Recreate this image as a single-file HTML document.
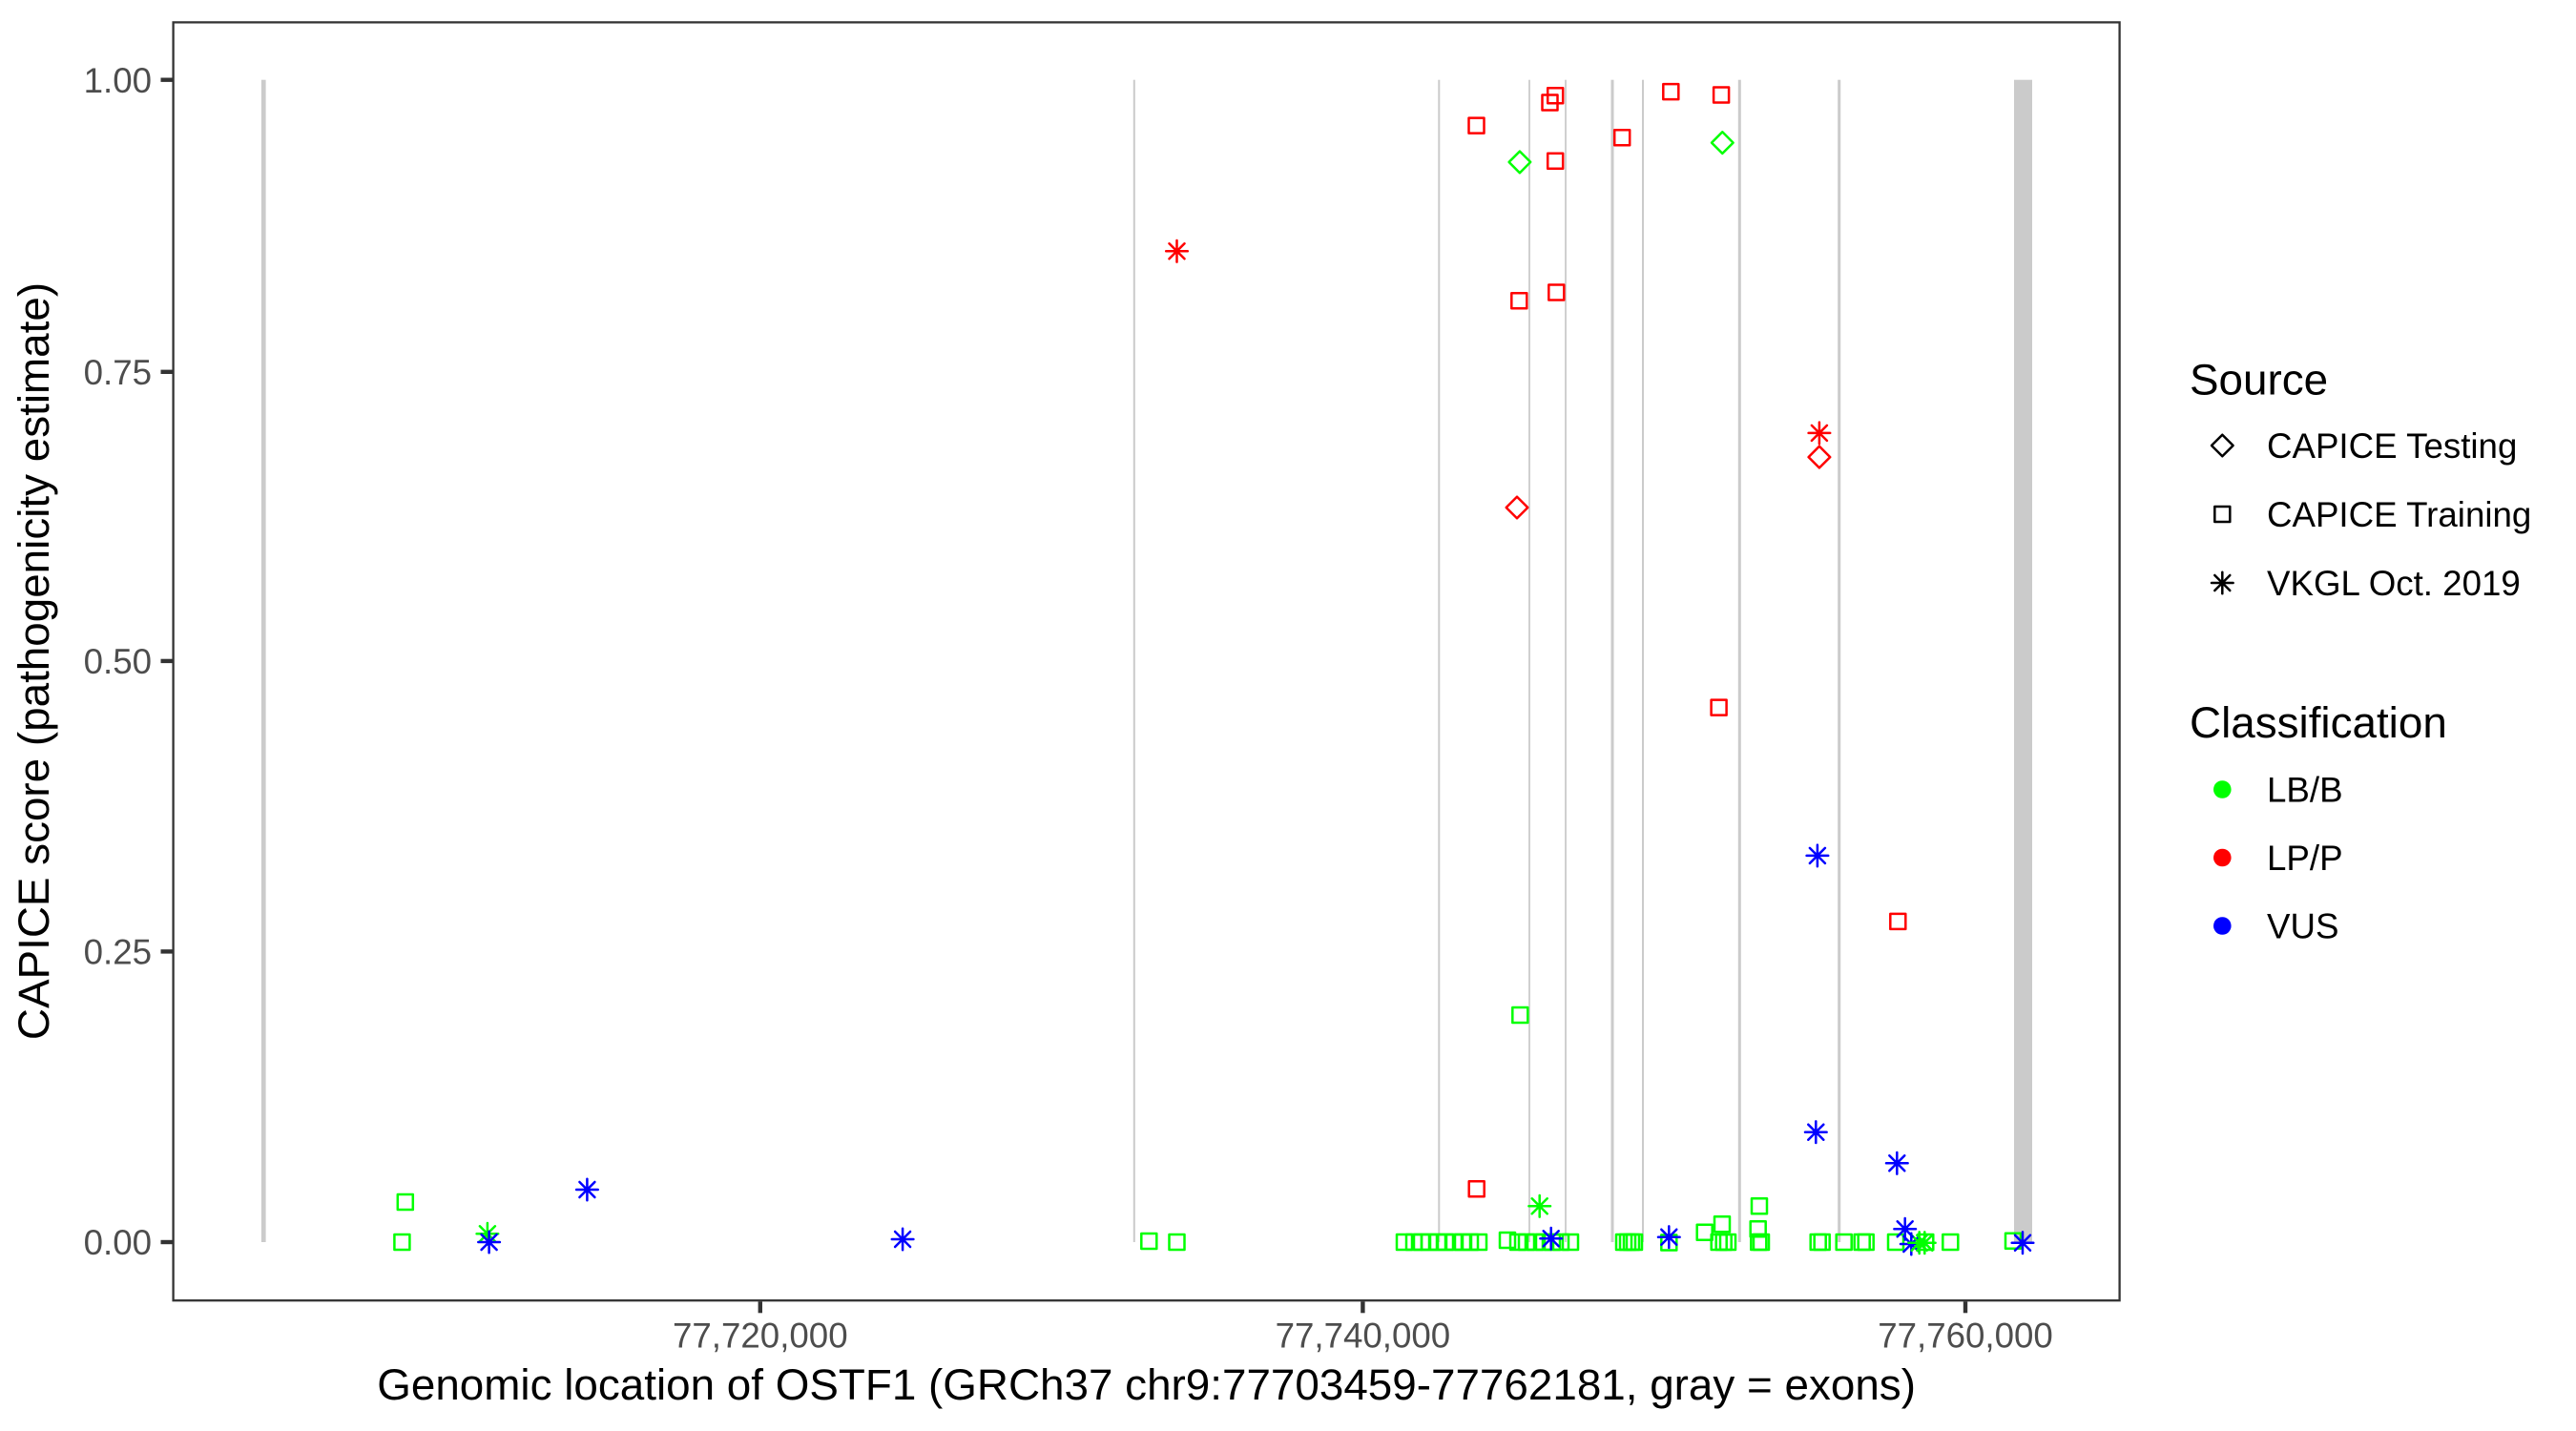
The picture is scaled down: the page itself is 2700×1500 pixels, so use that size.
<!DOCTYPE html>
<html><head><meta charset="utf-8"><style>
html,body{margin:0;padding:0;background:#fff;}
svg{display:block;}
text{font-family:"Liberation Sans",Arial,sans-serif;}
</style></head><body>
<svg width="2700" height="1500" viewBox="0 0 2700 1500" xmlns="http://www.w3.org/2000/svg">
<defs>
<rect id="sq" x="-8" y="-8" width="16" height="16" fill="none"/>
<path id="dm" d="M0,-11.3L11.3,0L0,11.3L-11.3,0Z" fill="none"/>
<path id="st" d="M-11.3,0H11.3M0,-11.3V11.3M-8,-8L8,8M-8,8L8,-8" fill="none"/>
</defs>
<rect width="2700" height="1500" fill="#fff"/>
<!-- exons -->
<g fill="#cbcbcb">
<rect x="273.9" y="83.7" width="4.7" height="1218.3"/>
<rect x="1187.8" y="83.7" width="2" height="1218.3"/>
<rect x="1507.3" y="83.7" width="2" height="1218.3"/>
<rect x="1602.1" y="83.7" width="1.8" height="1218.3"/>
<rect x="1640.1" y="83.7" width="1.8" height="1218.3"/>
<rect x="1688.5" y="83.7" width="3" height="1218.3"/>
<rect x="1721" y="83.7" width="2" height="1218.3"/>
<rect x="1821.8" y="83.7" width="3" height="1218.3"/>
<rect x="1926.2" y="83.7" width="3" height="1218.3"/>
<rect x="2111" y="83.7" width="19" height="1218.3"/>
</g>
<!-- points -->
<g stroke-width="2.5" stroke-linejoin="round" stroke-linecap="round">
<g stroke="#00ff00">
<use href="#sq" x="424.8" y="1260"/><use href="#sq" x="421.4" y="1302"/>
<use href="#sq" x="1204.3" y="1301"/><use href="#sq" x="1233.5" y="1302"/>
<use href="#sq" x="1593.3" y="1064"/>
<use href="#sq" x="1472" y="1302"/><use href="#sq" x="1482" y="1302"/><use href="#sq" x="1490" y="1302"/><use href="#sq" x="1498" y="1302"/><use href="#sq" x="1507" y="1302"/><use href="#sq" x="1515" y="1302"/><use href="#sq" x="1524" y="1302"/><use href="#sq" x="1533" y="1302"/><use href="#sq" x="1541" y="1302"/><use href="#sq" x="1550" y="1302"/>
<use href="#sq" x="1580" y="1300"/><use href="#sq" x="1591" y="1302"/><use href="#sq" x="1600" y="1302"/><use href="#sq" x="1609" y="1302"/><use href="#sq" x="1618" y="1302"/><use href="#sq" x="1627" y="1302"/><use href="#sq" x="1636" y="1302"/><use href="#sq" x="1646" y="1302"/>
<use href="#sq" x="1702" y="1302"/><use href="#sq" x="1706" y="1302"/><use href="#sq" x="1710" y="1302"/><use href="#sq" x="1713" y="1302"/>
<use href="#sq" x="1749.3" y="1302.5"/>
<use href="#sq" x="1786.7" y="1291.7"/><use href="#sq" x="1805" y="1283.3"/><use href="#sq" x="1801.7" y="1302"/><use href="#sq" x="1806.7" y="1302"/><use href="#sq" x="1811" y="1302"/>
<use href="#sq" x="1844" y="1264.3"/><use href="#sq" x="1842.7" y="1288.3"/><use href="#sq" x="1843.3" y="1302"/><use href="#sq" x="1846" y="1302"/>
<use href="#sq" x="1905.7" y="1302"/><use href="#sq" x="1909.7" y="1302"/><use href="#sq" x="1932.7" y="1302"/><use href="#sq" x="1951.7" y="1302"/><use href="#sq" x="1955.7" y="1302"/><use href="#sq" x="1987" y="1302"/><use href="#sq" x="2018.3" y="1302"/><use href="#sq" x="2044.3" y="1302"/><use href="#sq" x="2110" y="1300.7"/>
<use href="#dm" x="1592.9" y="169.9"/><use href="#dm" x="1805.3" y="149.6"/>
</g>
<g stroke="#ff0000">
<use href="#sq" x="1630.2" y="100.3"/><use href="#sq" x="1624.5" y="107.5"/><use href="#sq" x="1751.3" y="96.1"/><use href="#sq" x="1804.1" y="99.5"/><use href="#sq" x="1547.5" y="131.6"/><use href="#sq" x="1700.2" y="144.3"/><use href="#sq" x="1630.2" y="168.8"/><use href="#sq" x="1631.3" y="306.5"/><use href="#sq" x="1592.3" y="315.3"/><use href="#sq" x="1547.7" y="1246.3"/><use href="#sq" x="1801.6" y="741.6"/><use href="#sq" x="1989.3" y="965.9"/>
<use href="#dm" x="1906.9" y="479.1"/><use href="#dm" x="1590" y="532"/>
</g>
<g stroke="#0000ff">
<use href="#st" x="2003.3" y="1304"/>
</g>
<g stroke="#00ff00">
<use href="#st" x="510.9" y="1293.3"/><use href="#st" x="1613.7" y="1264.3"/><use href="#st" x="2011.7" y="1302.7"/><use href="#st" x="2017.3" y="1302.7"/>
</g>
<g stroke="#ff0000">
<use href="#st" x="1233.5" y="263.3"/><use href="#st" x="1906.9" y="453.9"/>
</g>
<g stroke="#0000ff">
<use href="#st" x="512.6" y="1302"/><use href="#st" x="615.4" y="1247"/><use href="#st" x="946.1" y="1299"/><use href="#st" x="1625.7" y="1298.3"/><use href="#st" x="1749.3" y="1296.7"/><use href="#st" x="1904.9" y="896.9"/><use href="#st" x="1903.3" y="1186.7"/><use href="#st" x="1988.3" y="1219.3"/><use href="#st" x="1996.7" y="1288.3"/><use href="#st" x="2120" y="1302.7"/>
</g>
</g>
<!-- panel border -->
<rect x="181.6" y="23.4" width="2040" height="1339.8" fill="none" stroke="#333" stroke-width="2.3"/>
<!-- ticks -->
<g stroke="#333" stroke-width="4.4">
<line x1="168.5" y1="83.7" x2="180.5" y2="83.7"/>
<line x1="168.5" y1="389.8" x2="180.5" y2="389.8"/>
<line x1="168.5" y1="692.9" x2="180.5" y2="692.9"/>
<line x1="168.5" y1="997.4" x2="180.5" y2="997.4"/>
<line x1="168.5" y1="1302" x2="180.5" y2="1302"/>
<line x1="796.8" y1="1364.3" x2="796.8" y2="1376.3"/>
<line x1="1428.4" y1="1364.3" x2="1428.4" y2="1376.3"/>
<line x1="2060" y1="1364.3" x2="2060" y2="1376.3"/>
</g>
<g font-size="36.7" fill="#4d4d4d">
<text x="159" y="96.8" text-anchor="end">1.00</text>
<text x="159" y="402.9" text-anchor="end">0.75</text>
<text x="159" y="706" text-anchor="end">0.50</text>
<text x="159" y="1010.5" text-anchor="end">0.25</text>
<text x="159" y="1315.1" text-anchor="end">0.00</text>
<text x="796.8" y="1412.7" text-anchor="middle">77,720,000</text>
<text x="1428.4" y="1412.7" text-anchor="middle">77,740,000</text>
<text x="2060" y="1412.7" text-anchor="middle">77,760,000</text>
</g>
<g font-size="45.8" fill="#000">
<text x="1201.6" y="1467" text-anchor="middle">Genomic location of OSTF1 (GRCh37 chr9:77703459-77762181, gray = exons)</text>
<text transform="translate(51,693) rotate(-90)" text-anchor="middle">CAPICE score (pathogenicity estimate)</text>
<text x="2295" y="413.4">Source</text>
<text x="2295" y="773.2">Classification</text>
</g>
<!-- legend keys -->
<g stroke="#000" stroke-width="2.5" stroke-linejoin="round" stroke-linecap="round">
<use href="#dm" x="2329.3" y="467"/>
<use href="#sq" x="2329.3" y="539"/>
<use href="#st" x="2329.3" y="611"/>
</g>
<circle cx="2329.3" cy="827.5" r="9.3" fill="#00ff00"/>
<circle cx="2329.3" cy="899" r="9.3" fill="#ff0000"/>
<circle cx="2329.3" cy="970.5" r="9.3" fill="#0000ff"/>
<g font-size="36.7" fill="#000">
<text x="2376" y="480.2">CAPICE Testing</text>
<text x="2376" y="552.2">CAPICE Training</text>
<text x="2376" y="624.2">VKGL Oct. 2019</text>
<text x="2376" y="840.7">LB/B</text>
<text x="2376" y="912.2">LP/P</text>
<text x="2376" y="983.7">VUS</text>
</g>
</svg>
</body></html>
